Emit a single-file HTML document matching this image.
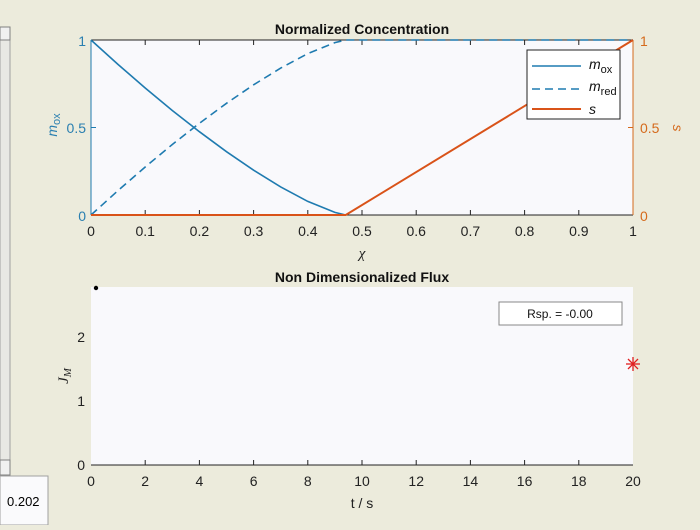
<!DOCTYPE html>
<html><head><meta charset="utf-8"><style>
body{margin:0;width:700px;height:525px;overflow:hidden;background:#ecebdc;font-family:"Liberation Sans",sans-serif}
</style></head><body>
<svg width="700" height="525" xmlns="http://www.w3.org/2000/svg" font-family="Liberation Sans, sans-serif">
<rect x="0" y="27" width="10" height="448" fill="#e8e8e4" stroke="#a0a0a0"/>
<rect x="0" y="27" width="10" height="13" fill="#f0f0f0" stroke="#808080"/>
<rect x="0" y="460" width="10" height="15" fill="#f0f0f0" stroke="#808080"/>
<rect x="0" y="476" width="48" height="49" fill="#fafafc" stroke="#a0a0a0"/>
<text x="7" y="506" font-size="13" fill="#000">0.202</text>

<rect x="91" y="40" width="542" height="175" fill="#f9f9fc"/>
<g stroke="#222" stroke-width="1" fill="none">
<line x1="91" y1="40" x2="633" y2="40"/><line x1="91" y1="215" x2="633" y2="215"/>
</g>
<g stroke="#222">
<line x1="145.2" y1="215" x2="145.2" y2="210"/><line x1="199.4" y1="215" x2="199.4" y2="210"/><line x1="253.6" y1="215" x2="253.6" y2="210"/><line x1="307.8" y1="215" x2="307.8" y2="210"/><line x1="362" y1="215" x2="362" y2="210"/><line x1="416.2" y1="215" x2="416.2" y2="210"/><line x1="470.4" y1="215" x2="470.4" y2="210"/><line x1="524.6" y1="215" x2="524.6" y2="210"/><line x1="578.8" y1="215" x2="578.8" y2="210"/>
<line x1="145.2" y1="40" x2="145.2" y2="45"/><line x1="199.4" y1="40" x2="199.4" y2="45"/><line x1="253.6" y1="40" x2="253.6" y2="45"/><line x1="307.8" y1="40" x2="307.8" y2="45"/><line x1="362" y1="40" x2="362" y2="45"/><line x1="416.2" y1="40" x2="416.2" y2="45"/><line x1="470.4" y1="40" x2="470.4" y2="45"/><line x1="524.6" y1="40" x2="524.6" y2="45"/><line x1="578.8" y1="40" x2="578.8" y2="45"/>
</g>
<line x1="91" y1="40" x2="91" y2="215" stroke="#1f7bb0"/>
<line x1="91" y1="127.5" x2="96" y2="127.5" stroke="#1f7bb0"/>
<line x1="633" y1="40" x2="633" y2="215" stroke="#d56a1c"/>
<line x1="633" y1="127.5" x2="628" y2="127.5" stroke="#d56a1c"/>
<g font-size="14" fill="#2a7fb0" text-anchor="end">
<text x="86" y="46">1</text><text x="86" y="133">0.5</text><text x="86" y="221">0</text></g>
<g font-size="14" fill="#d56a1c">
<text x="640" y="46">1</text><text x="640" y="133">0.5</text><text x="640" y="221">0</text></g>
<g font-size="14" fill="#222" text-anchor="middle">
<text x="91" y="236">0</text><text x="145.2" y="236">0.1</text><text x="199.4" y="236">0.2</text><text x="253.6" y="236">0.3</text><text x="307.8" y="236">0.4</text><text x="362" y="236">0.5</text><text x="416.2" y="236">0.6</text><text x="470.4" y="236">0.7</text><text x="524.6" y="236">0.8</text><text x="578.8" y="236">0.9</text><text x="633" y="236">1</text></g>
<text x="362" y="258" font-size="15" font-style="italic" fill="#222" text-anchor="middle" font-family="Liberation Serif, serif">χ</text>
<text x="362" y="34" font-size="14" font-weight="bold" fill="#111" text-anchor="middle">Normalized Concentration</text>
<text transform="translate(57,125) rotate(-90)" font-size="14" fill="#2a7fb0" text-anchor="middle"><tspan font-style="italic">m</tspan><tspan font-size="11" dy="3">ox</tspan></text>
<text transform="translate(673,128) rotate(90)" font-size="14" font-style="italic" fill="#d56a1c" text-anchor="middle">s</text>

<polyline fill="none" stroke="#1f7bb0" stroke-width="1.6" points="91,40 118.1,64.5 145.2,88 172.3,110.5 199.4,131.7 226.5,151.7 253.6,170.2 280.7,186.9 307.8,201.4 334.9,212.4 345.7,215"/>
<polyline fill="none" stroke="#1f7bb0" stroke-width="1.6" stroke-dasharray="8,5" points="91,215 118.1,190.5 145.2,167 172.3,144.5 199.4,123.3 226.5,103.3 253.6,84.8 280.7,68.1 307.8,53.6 334.9,42.6 345.7,40 633,40"/>
<polyline fill="none" stroke="#d95319" stroke-width="2" points="91,215 345.7,215 633,40"/>

<rect x="527" y="50" width="93" height="69" fill="#fff" stroke="#222"/>
<line x1="532" y1="66" x2="581" y2="66" stroke="#1f7bb0" stroke-width="1.6"/>
<line x1="532" y1="89" x2="581" y2="89" stroke="#1f7bb0" stroke-width="1.6" stroke-dasharray="8,5"/>
<line x1="532" y1="109" x2="581" y2="109" stroke="#d95319" stroke-width="2"/>
<g font-size="14" fill="#111"><text x="589" y="69"><tspan font-style="italic">m</tspan><tspan font-size="11" dy="4">ox</tspan></text>
<text x="589" y="91"><tspan font-style="italic">m</tspan><tspan font-size="11" dy="4">red</tspan></text>
<text x="589" y="114" font-style="italic">s</text></g>

<rect x="91" y="287" width="542" height="178" fill="#f9f9fc"/>
<line x1="91" y1="465" x2="633" y2="465" stroke="#222"/>
<g stroke="#222">
<line x1="145.2" y1="465" x2="145.2" y2="460"/><line x1="199.4" y1="465" x2="199.4" y2="460"/><line x1="253.6" y1="465" x2="253.6" y2="460"/><line x1="307.8" y1="465" x2="307.8" y2="460"/><line x1="362" y1="465" x2="362" y2="460"/><line x1="416.2" y1="465" x2="416.2" y2="460"/><line x1="470.4" y1="465" x2="470.4" y2="460"/><line x1="524.6" y1="465" x2="524.6" y2="460"/><line x1="578.8" y1="465" x2="578.8" y2="460"/>
</g>
<g font-size="14" fill="#222" text-anchor="middle">
<text x="91" y="486">0</text><text x="145.2" y="486">2</text><text x="199.4" y="486">4</text><text x="253.6" y="486">6</text><text x="307.8" y="486">8</text><text x="362" y="486">10</text><text x="416.2" y="486">12</text><text x="470.4" y="486">14</text><text x="524.6" y="486">16</text><text x="578.8" y="486">18</text><text x="633" y="486">20</text></g>
<g font-size="14" fill="#222" text-anchor="end"><text x="85" y="470">0</text><text x="85" y="406">1</text><text x="85" y="342">2</text></g>
<text x="362" y="508" font-size="14" fill="#222" text-anchor="middle">t / s</text>
<text x="362" y="282" font-size="14" font-weight="bold" fill="#111" text-anchor="middle">Non Dimensionalized Flux</text>
<text transform="translate(68,376) rotate(-90)" font-size="15" font-style="italic" fill="#222" text-anchor="middle" font-family="Liberation Serif, serif">J<tspan font-size="11" dy="3">M</tspan></text>
<circle cx="96" cy="288" r="2.2" fill="#000"/>
<g stroke="#e02020" stroke-width="1.3"><line x1="626" y1="364" x2="640" y2="364"/><line x1="633" y1="357" x2="633" y2="371"/><line x1="628" y1="359" x2="638" y2="369"/><line x1="628" y1="369" x2="638" y2="359"/></g>
<rect x="499" y="302" width="123" height="23" fill="#fff" stroke="#888"/>
<text x="560" y="318" font-size="12" fill="#111" text-anchor="middle">Rsp. = -0.00</text>
</svg>
</body></html>
